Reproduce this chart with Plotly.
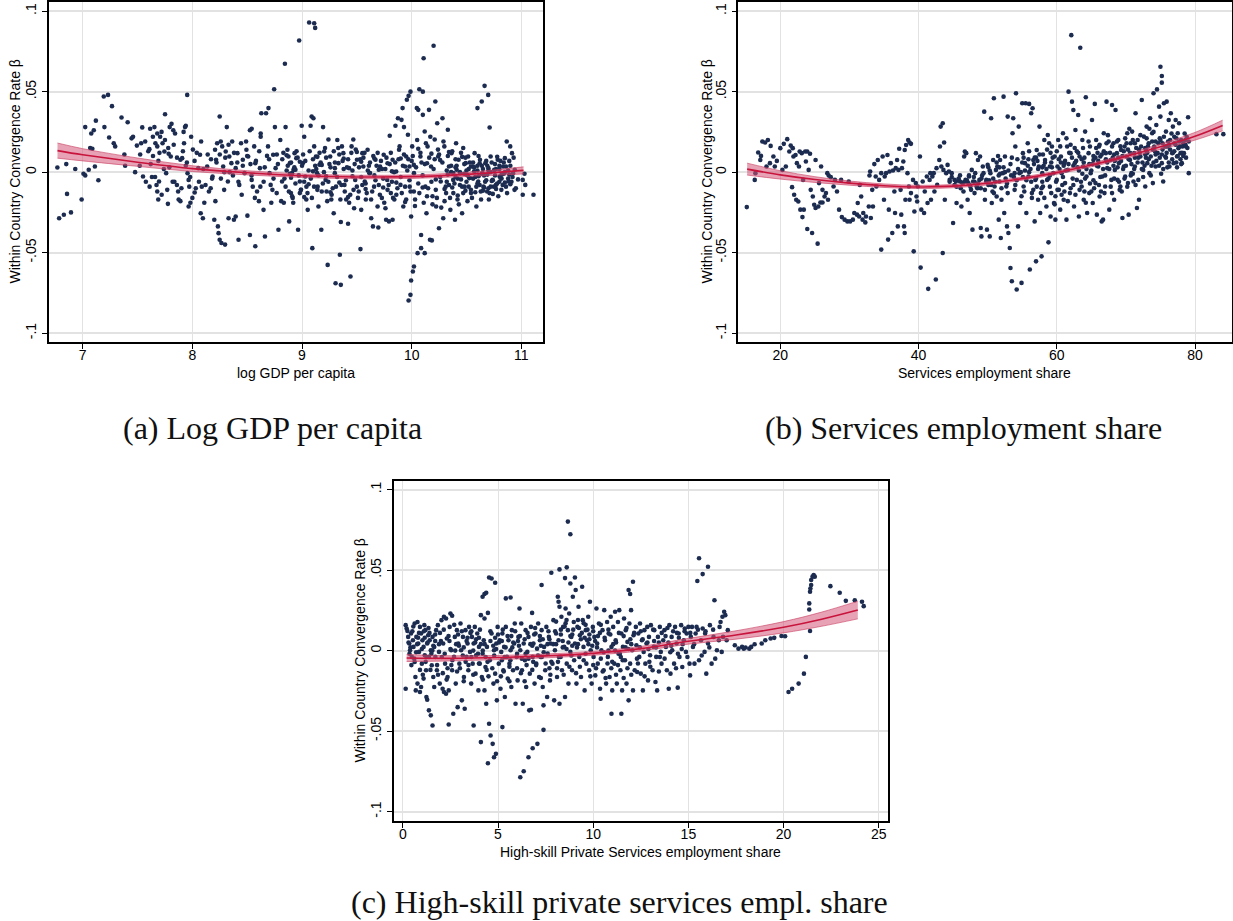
import plotly.graph_objects as go

W, H = 1233, 921

# ---------------------------------------------------------------------------
# Panel (a): within-country convergence rate vs log GDP per capita
# ---------------------------------------------------------------------------
gdp_points = [
    (6.769, 0.0029), (6.785, -0.0286), (6.828, -0.0265), (6.85, 0.005), (6.857, -0.0135),
    (6.893, -0.025), (6.932, 0.002), (6.99, -0.017), (7.007, -0.001), (7.023, -0.002),
    (7.023, 0.028), (7.055, 0.0015), (7.068, 0.015), (7.088, 0.0145), (7.078, 0.024),
    (7.101, 0.026), (7.111, 0.0035), (7.12, 0.032), (7.143, -0.005), (7.192, 0.047),
    (7.231, 0.048), (7.198, 0.028), (7.241, 0.0215), (7.267, 0.041), (7.283, 0.018),
    (7.296, 0.016), (7.354, 0.034), (7.387, 0.004), (7.38, 0.011), (7.41, 0.031),
    (7.446, 0.021), (7.459, 0.022), (7.478, 0.0), (7.494, 0.0165), (7.524, 0.011),
    (7.533, 0.018), (7.543, 0.0278), (7.55, -0.0027), (7.576, -0.006), (7.598, 0.013),
    (7.608, 0.0143), (7.615, 0.027), (7.631, -0.003), (7.641, 0.01), (7.654, 0.028),
    (7.68, 0.024), (7.663, 0.018), (7.68, 0.016), (7.673, -0.008), (7.68, -0.012),
    (7.689, -0.017), (7.696, -0.0058), (7.706, 0.022), (7.719, 0.025), (7.728, 0.018),
    (7.745, 0.0128), (7.751, 0.036), (7.761, -0.0006), (7.771, -0.011), (7.777, -0.0197),
    (7.784, 0.0114), (7.803, 0.0097), (7.793, 0.028), (7.81, 0.03), (7.826, 0.026),
    (7.842, 0.024), (7.836, -0.006), (7.859, -0.008), (7.875, -0.017), (7.891, -0.018),
    (7.891, 0.0077), (7.907, 0.0087), (7.914, 0.013), (7.924, 0.018), (7.933, 0.028),
    (7.94, 0.0288), (7.953, 0.048), (7.956, -0.0006), (7.966, -0.0048), (7.972, -0.009),
    (7.966, -0.0213), (7.982, -0.019), (7.989, 0.022), (8.005, 0.014), (8.021, -0.0126),
    (8.031, -0.01), (8.054, 0.0025), (8.07, 0.0108), (8.076, -0.0255), (8.096, -0.0286),
    (8.086, -0.009), (8.109, -0.019), (8.135, 0.0035), (8.151, -0.012), (8.167, -0.01),
    (8.184, -0.0027), (8.2, -0.0296), (8.207, 0.0139), (8.226, 0.018), (8.216, 0.0077),
    (8.233, -0.0337), (8.239, -0.0379), (8.249, 0.0346), (8.249, -0.042), (8.265, -0.044),
    (8.259, 0.019), (8.272, 0.016), (8.281, 0.0035), (8.291, 0.0), (8.298, -0.045),
    (8.304, 0.0128), (8.314, 0.028), (8.324, -0.0058), (8.33, -0.0286), (8.337, 0.0097),
    (8.356, 0.0056), (8.363, 0.019), (8.379, -0.0296), (8.395, -0.0275), (8.395, 0.0025),
    (8.411, 0.0118), (8.421, -0.042), (8.428, -0.0079), (8.444, 0.018), (8.46, 0.0077),
    (8.476, -0.0006), (8.493, 0.0139), (8.509, 0.0097), (8.502, -0.027), (8.525, 0.026),
    (8.541, 0.027), (8.525, -0.039), (8.541, -0.0048), (8.551, -0.009), (8.564, 0.016),
    (8.574, 0.0056), (8.574, -0.046), (8.59, -0.012), (8.607, -0.018), (8.616, 0.0025),
    (8.623, 0.024), (8.623, 0.022), (8.629, 0.0366), (8.649, -0.0234), (8.662, -0.04),
    (8.672, 0.0366), (8.694, 0.0398), (8.681, 0.0101), (8.704, -0.0006), (8.714, -0.0079),
    (8.72, -0.019), (8.737, 0.0108), (8.746, 0.0515), (8.753, 0.028), (8.759, 0.0025),
    (8.769, -0.013), (8.785, -0.0358), (8.802, 0.02), (8.818, -0.0058), (8.834, -0.019),
    (8.844, 0.0673), (8.85, 0.028), (8.867, 0.0139), (8.876, 0.0097), (8.889, 0.0056),
    (8.883, -0.0306), (8.899, -0.013), (8.915, -0.016), (8.909, -0.0006), (8.922, 0.0014),
    (8.932, 0.0118), (8.948, 0.0087), (8.964, -0.0358), (8.974, 0.0818), (8.98, -0.0058),
    (8.99, -0.011), (8.997, 0.0288), (9.007, 0.0056), (9.02, 0.022), (9.029, -0.0027),
    (9.039, -0.017), (9.052, -0.0234), (9.065, 0.093), (9.111, 0.0925), (9.12, 0.0896),
    (9.078, 0.0288), (9.088, 0.0346), (9.104, 0.0335), (9.094, -0.0472), (9.111, 0.016),
    (9.127, 0.0097), (9.137, -0.0006), (9.143, -0.009), (9.15, -0.0213), (9.159, 0.0046),
    (9.176, -0.0358), (9.192, 0.028), (9.202, 0.0128), (9.215, -0.0048), (9.224, -0.012),
    (9.234, -0.0576), (9.241, 0.0203), (9.257, 0.0097), (9.267, -0.017), (9.289, -0.0255),
    (9.299, -0.0006), (9.306, -0.069), (9.354, -0.07), (9.322, 0.02), (9.332, 0.0056),
    (9.345, -0.0513), (9.354, -0.031), (9.364, 0.016), (9.377, 0.0118), (9.387, -0.0079),
    (9.403, -0.017), (9.42, -0.032), (9.429, 0.0025), (9.442, -0.0648), (9.452, 0.016),
    (9.468, 0.0203), (9.475, -0.0224), (9.485, -0.0048), (9.501, 0.0077), (9.517, -0.012),
    (9.533, -0.0478), (9.54, -0.0234), (9.55, 0.0118), (9.559, 0.0035), (9.572, -0.0058),
    (9.582, -0.017), (9.598, 0.0139), (9.615, -0.0006), (9.631, -0.0286), (9.647, -0.0337),
    (9.696, -0.0344), (9.657, -0.009), (9.67, 0.0077), (9.689, -0.0213), (9.712, 0.0035),
    (9.728, -0.016), (9.745, 0.0108), (9.761, -0.0224), (9.767, -0.0296), (9.793, -0.0306),
    (9.826, -0.0296), (9.777, -0.0048), (9.8, 0.0226), (9.81, -0.013), (9.826, 0.0077),
    (9.842, -0.017), (9.852, 0.0288), (9.875, 0.0335), (9.859, 0.0004), (9.885, 0.0139),
    (9.898, -0.0079), (9.907, 0.0325), (9.917, 0.0398), (9.924, -0.0213), (9.93, 0.028),
    (9.94, 0.0035), (9.95, 0.0097), (9.956, 0.045), (9.972, 0.0474), (9.989, 0.05),
    (9.966, 0.0232), (9.972, -0.0797), (9.989, -0.0762), (9.995, -0.0673), (10.011, -0.0617),
    (10.021, -0.0586), (9.982, -0.009), (9.995, -0.0275), (10.005, 0.016), (10.021, -0.0006),
    (10.031, -0.017), (10.047, 0.0398), (10.06, 0.0387), (10.054, -0.0503), (10.086, -0.0472),
    (10.119, -0.0503), (10.07, 0.0515), (10.102, 0.05), (10.08, 0.0097), (10.086, -0.039),
    (10.102, 0.0356), (10.109, 0.0708), (10.119, 0.0253), (10.125, -0.009), (10.135, -0.0255),
    (10.145, 0.016), (10.158, 0.0387), (10.167, -0.042), (10.184, -0.0424), (10.177, 0.0035),
    (10.19, -0.015), (10.2, 0.0785), (10.21, 0.0203), (10.216, 0.0439), (10.223, -0.0213),
    (10.233, 0.0304), (10.242, 0.0097), (10.249, -0.0348), (10.265, -0.0058), (10.281, 0.0335),
    (10.288, -0.0286), (10.298, 0.016), (10.314, -0.013), (10.33, 0.0263), (10.34, 0.0035),
    (10.353, -0.0234), (10.363, 0.0118), (10.379, -0.0048), (10.395, -0.0296), (10.405, 0.018),
    (10.418, -0.017), (10.428, 0.0077), (10.444, -0.0006), (10.46, -0.0255), (10.47, 0.015),
    (10.483, -0.009), (10.493, 0.0056), (10.509, -0.018), (10.515, 0.0097), (10.525, -0.0037),
    (10.541, -0.013), (10.558, 0.0035), (10.574, 0.0118), (10.59, -0.0213), (10.6, 0.0398),
    (10.639, 0.0439), (10.665, 0.0536), (10.698, 0.048), (10.607, -0.0058), (10.623, 0.0077),
    (10.633, -0.017), (10.646, -0.0006), (10.655, -0.009), (10.672, 0.0056), (10.688, -0.012),
    (10.704, -0.017), (10.711, 0.0277), (10.72, 0.0097), (10.737, -0.0048), (10.753, 0.0014),
    (10.769, -0.0079), (10.785, 0.0077), (10.802, -0.0027), (10.818, -0.011), (10.834, 0.0035),
    (10.85, 0.0087), (10.867, 0.019), (10.883, -0.0058), (10.899, 0.016), (10.915, 0.0118),
    (10.925, -0.0006), (10.938, -0.011), (11.013, -0.0048), (11.029, -0.001), (11.036, -0.0079),
    (11.013, -0.014), (11.111, -0.014),
    # dense core
    (7.62, 0.005), (7.66, -0.003), (7.7, 0.012), (7.74, 0.002), (7.78, 0.015), (7.82, -0.006),
    (7.86, 0.009), (7.9, -0.01), (7.94, 0.004), (7.98, -0.003), (8.02, 0.007), (8.06, -0.006),
    (8.1, 0.002), (8.14, 0.011), (8.18, -0.004), (8.22, 0.006), (8.26, -0.004), (8.3, 0.009),
    (8.34, 0.0), (8.38, 0.012), (8.42, -0.006), (8.46, 0.004), (8.5, 0.01), (8.54, -0.002),
    (8.58, 0.007), (8.62, -0.009), (8.66, 0.003), (8.7, 0.008), (8.74, -0.004), (8.78, 0.005),
    (8.82, 0.008), (8.84, -0.004), (8.86, 0.001), (8.88, -0.012), (8.9, 0.006), (8.91, -0.015),
    (8.93, 0.003), (8.94, -0.007), (8.96, 0.009), (8.97, -0.002), (8.99, -0.011), (9.0, 0.004),
    (9.02, -0.006), (9.03, 0.007), (9.05, -0.013), (9.06, 0.001), (9.08, -0.004), (9.1, 0.008),
    (9.11, -0.009), (9.13, 0.002), (9.15, -0.002), (9.17, 0.006), (9.18, -0.012), (9.2, 0.0),
    (9.22, 0.009), (9.24, -0.006), (9.26, 0.003), (9.28, -0.01), (9.3, 0.006), (9.32, -0.003),
    (9.34, 0.011), (9.36, -0.008), (9.38, 0.002), (9.4, -0.005), (9.42, 0.008), (9.44, -0.014),
    (9.46, 0.001), (9.48, 0.005), (9.5, -0.009), (9.52, 0.003), (9.54, -0.003), (9.56, 0.009),
    (9.58, -0.007), (9.6, 0.001), (9.62, 0.006), (9.64, -0.012), (9.66, -0.002), (9.68, 0.004),
    (9.7, -0.008), (9.72, 0.007), (9.74, -0.004), (9.76, 0.002), (9.78, -0.011), (9.8, 0.005),
    (9.82, -0.006), (9.84, 0.0), (9.86, -0.014), (9.88, 0.008), (9.9, -0.003), (9.92, 0.004),
    (9.94, -0.009), (9.96, 0.001), (9.98, -0.005), (10.0, 0.007), (10.02, -0.012), (10.04, 0.003),
    (10.06, -0.007), (10.08, 0.012), (10.1, -0.002), (10.12, 0.005), (10.14, -0.015), (10.16, 0.009),
    (10.18, -0.006), (10.2, 0.002), (10.22, -0.011), (10.24, 0.014), (10.26, -0.003), (10.28, 0.006),
    (10.3, -0.018), (10.32, 0.001), (10.34, -0.008), (10.36, 0.004), (10.38, -0.013), (10.4, 0.008),
    (10.42, -0.004), (10.44, 0.0), (10.46, -0.009), (10.48, 0.005), (10.5, -0.006), (10.52, 0.002),
    (10.54, -0.011), (10.56, 0.006), (10.58, -0.003), (10.6, 0.001), (10.62, -0.008), (10.64, 0.004),
    (10.66, -0.002), (10.68, 0.007), (10.7, -0.01), (10.72, 0.0), (10.74, -0.005), (10.76, 0.005),
    (10.78, -0.007), (10.8, 0.002), (10.82, -0.004), (10.84, 0.006), (10.86, -0.009), (10.88, 0.001),
    (10.9, 0.004), (10.92, -0.003),
    (7.52, 0.004), (7.57, 0.019), (7.61, -0.009), (7.64, 0.022), (7.69, 0.007), (7.72, -0.014),
    (7.75, 0.02), (7.79, 0.003), (7.83, 0.017), (7.87, -0.012), (7.92, 0.025), (7.95, 0.006),
    (8.0, -0.016), (8.04, 0.012), (8.08, 0.019), (8.12, -0.008), (8.17, 0.008), (8.21, -0.018),
    (8.25, 0.011), (8.29, -0.011), (8.33, 0.017), (8.37, -0.002), (8.41, 0.006), (8.45, -0.014),
    (8.49, 0.019), (8.53, 0.005), (8.57, -0.016), (8.61, 0.013), (8.65, -0.006), (8.69, 0.016),
    (8.73, -0.011), (8.77, 0.011),
    (8.81, -0.018), (8.83, 0.012), (8.85, -0.009), (8.87, 0.004), (8.89, -0.001), (8.92, -0.019),
    (8.95, 0.013), (8.98, -0.013), (9.01, 0.011), (9.04, -0.009), (9.07, 0.013), (9.09, -0.016),
    (9.12, 0.004), (9.14, -0.011), (9.16, 0.012), (9.19, -0.007), (9.21, 0.015), (9.23, -0.018),
    (9.25, 0.005), (9.27, -0.014), (9.29, 0.013), (9.31, -0.009), (9.33, 0.015), (9.35, -0.017),
    (9.37, 0.007), (9.39, -0.012), (9.41, 0.003), (9.43, -0.019), (9.45, 0.012), (9.47, -0.011),
    (9.49, 0.014), (9.51, -0.016), (9.53, 0.008), (9.55, -0.008), (9.57, 0.012), (9.59, -0.013),
    (9.61, 0.004), (9.63, -0.017), (9.65, 0.01), (9.67, -0.005), (9.69, 0.012), (9.71, -0.014),
    (9.73, 0.002), (9.75, -0.019), (9.77, 0.009), (9.79, -0.008), (9.81, 0.012), (9.83, -0.016),
    (9.85, 0.006), (9.87, -0.01), (9.89, 0.016), (9.91, -0.013), (9.93, 0.011), (9.95, -0.017),
    (9.97, 0.008), (9.99, -0.012),
    (10.01, 0.01), (10.03, -0.021), (10.05, 0.02), (10.07, -0.013), (10.09, 0.006), (10.11, -0.019),
    (10.13, 0.018), (10.15, -0.01), (10.17, 0.022), (10.19, -0.02), (10.21, 0.008), (10.23, -0.016),
    (10.25, 0.011), (10.27, -0.022), (10.29, 0.019), (10.31, -0.009), (10.33, 0.01), (10.35, -0.016),
    (10.37, 0.013), (10.39, -0.007), (10.41, 0.004), (10.43, -0.02), (10.45, 0.012), (10.47, -0.013),
    (10.49, 0.009), (10.51, -0.002), (10.53, 0.006), (10.55, -0.016), (10.57, 0.003), (10.59, -0.009),
    (10.61, 0.01), (10.63, -0.012), (10.65, 0.002), (10.67, -0.006), (10.69, 0.004), (10.71, -0.013),
    (10.73, 0.006), (10.75, -0.009), (10.77, 0.002), (10.79, -0.015), (10.81, 0.007), (10.83, -0.008),
    (10.85, 0.0), (10.87, -0.013), (10.89, 0.007), (10.91, -0.006), (10.93, 0.009), (10.95, -0.01),
    (10.32, -0.006), (10.36, 0.0), (10.4, -0.003), (10.44, -0.008), (10.48, -0.001), (10.52, -0.009),
    (10.56, -0.004), (10.6, -0.007), (10.64, -0.001), (10.68, -0.005), (10.72, -0.009), (10.76, -0.002),
    (10.8, -0.006), (10.84, -0.001), (10.88, -0.004), (10.4, 0.003), (10.5, 0.001), (10.6, 0.004),
    (10.7, 0.001), (10.8, 0.004),
    (8.86, 0.0105), (8.9, -0.0035), (8.94, 0.0015), (8.98, 0.0065), (9.02, -0.0155), (9.06, -0.0075),
    (9.1, 0.0005), (9.14, 0.0095), (9.18, 0.0045), (9.22, -0.0025), (9.26, -0.0125), (9.3, 0.0025),
    (9.34, -0.0065), (9.38, 0.0085), (9.42, -0.0155), (9.46, -0.0025), (9.5, 0.0125), (9.54, 0.0065),
    (9.58, -0.0105), (9.62, -0.0005), (9.66, 0.0085), (9.7, 0.0015), (9.74, -0.0095), (9.78, 0.0055),
    (9.82, 0.0005), (9.86, -0.0065), (9.9, 0.0085), (9.94, -0.0185), (9.98, 0.0035), (10.02, 0.0045),
    (10.06, 0.0145), (10.1, -0.0095), (10.14, 0.0055), (10.18, 0.0115), (10.22, -0.0045), (10.26, 0.0075),
    (10.3, -0.0105), (10.34, 0.0125), (10.38, -0.0005), (10.42, -0.0145), (10.46, 0.0095), (10.5, -0.0015),
    (10.54, 0.0035), (10.58, -0.0125), (10.62, 0.0055), (10.66, -0.0095), (10.7, 0.0025), (10.74, -0.0135),
    (10.78, 0.0095), (10.82, -0.0015), (10.86, 0.0035), (10.9, -0.0075), (10.94, 0.0015), (10.97, -0.0045),
    (10.33, -0.0015), (10.37, -0.0095), (10.41, 0.0015), (10.45, -0.0045), (10.49, -0.0115), (10.53, -0.0035),
    (10.57, 0.0005), (10.61, -0.0025), (10.65, -0.0115), (10.69, -0.0015), (10.73, -0.0055), (10.77, -0.0105),
    (10.81, -0.0035), (10.85, -0.0065), (10.89, -0.0015),
]

gdp_fit_x = [6.77, 7.0, 7.5, 8.0, 8.5, 9.0, 9.5, 10.0, 10.5, 11.02]
gdp_fit_y = [0.0134, 0.0108, 0.0062, 0.0022, -0.0004, -0.0022, -0.003, -0.0028, -0.0014, 0.0011]
gdp_fit_half = [0.0047, 0.0038, 0.0026, 0.0018, 0.0013, 0.0011, 0.0011, 0.0011, 0.0013, 0.0022]

# ---------------------------------------------------------------------------
# Panel (b): vs services employment share
# ---------------------------------------------------------------------------
serv_points = [
    (15.15, -0.0217), (16.3, -0.0048), (16.4, -0.0006), (16.8, 0.0122), (17.2, 0.0101),
    (17.1, 0.0076), (17.4, 0.019), (17.8, 0.0184), (18.2, 0.02), (18.0, 0.0035),
    (18.5, 0.0056), (18.6, 0.0163), (19.0, 0.0097), (19.2, 0.0035), (19.5, 0.007),
    (20.0, 0.0149), (20.3, 0.0014), (20.5, 0.0176), (21.0, 0.0205), (20.8, 0.0035),
    (21.3, 0.0128), (21.5, 0.0165), (21.8, 0.0149), (21.7, -0.0093), (22.0, -0.014),
    (22.3, -0.0171), (22.6, -0.0182), (21.9, 0.0097), (22.2, 0.0107), (22.4, 0.0056),
    (22.7, 0.0035), (22.8, 0.0128), (23.1, 0.0118), (22.9, -0.0233), (23.2, -0.0279),
    (23.3, -0.0048), (23.4, -0.0233), (23.6, 0.0128), (23.9, 0.0128), (24.3, 0.0114),
    (23.7, 0.0066), (24.1, 0.0014), (23.9, -0.0353), (24.6, -0.0378), (24.4, -0.011),
    (24.7, -0.0151), (24.9, -0.0202), (25.1, -0.0223), (25.5, -0.0213), (25.8, -0.0188),
    (26.1, -0.0188), (25.1, 0.0076), (25.4, -0.0444), (25.6, -0.0068), (25.9, 0.0035),
    (26.1, -0.011), (26.4, -0.0151), (26.8, -0.0006), (27.0, -0.0021), (27.3, -0.0031),
    (26.6, -0.013), (26.9, -0.0171), (27.7, -0.0089), (27.9, -0.0048), (28.2, -0.012),
    (28.5, -0.0233), (28.8, -0.0048), (28.9, -0.0279), (29.3, -0.0295), (29.7, -0.0306),
    (30.1, -0.0306), (30.5, -0.0295), (29.9, -0.0058), (30.7, -0.0254), (31.1, -0.0264),
    (31.4, -0.0275), (31.2, -0.0192), (31.5, -0.0079), (31.7, -0.0151), (31.9, -0.0295),
    (32.3, -0.0312), (32.0, -0.0254), (32.4, -0.0275), (32.8, -0.0213), (32.9, -0.0021),
    (33.0, 0.0004), (33.1, -0.0285), (33.3, -0.011), (33.4, -0.0213), (33.6, 0.005),
    (33.8, -0.0027), (33.9, -0.0089), (34.1, 0.0076), (34.3, -0.0048), (34.6, -0.0481),
    (34.6, -0.0006), (34.8, 0.0097), (35.0, -0.0171), (35.1, -0.0027), (35.3, -0.0006),
    (35.5, 0.0107), (35.6, -0.0419), (35.7, -0.0233), (35.8, 0.0004), (36.0, 0.0056),
    (36.2, -0.0378), (36.3, 0.001), (36.5, -0.012), (36.6, -0.0254), (36.7, 0.0025),
    (36.9, 0.0076), (37.0, -0.0337), (37.1, 0.0014), (37.2, 0.0145), (37.4, -0.011),
    (37.5, -0.0264), (37.6, 0.0025), (37.8, 0.0066), (37.9, -0.0337), (38.0, -0.0378),
    (38.0, 0.0138), (38.1, -0.0171), (38.2, 0.0169), (38.4, -0.0006), (38.5, 0.02),
    (38.7, 0.0184), (38.9, 0.0176), (38.6, -0.0089), (38.7, -0.0171), (38.9, -0.013),
    (39.2, -0.0048), (39.3, -0.0492), (39.4, -0.0244), (39.6, -0.0068), (39.7, -0.0151),
    (39.8, -0.0182), (39.9, -0.0089), (40.2, 0.0097), (40.3, -0.0593), (40.4, -0.0233),
    (40.6, -0.0058), (40.8, -0.0254), (40.9, -0.012), (41.2, -0.0027), (41.3, -0.0192),
    (41.4, -0.0725), (41.6, -0.0048), (41.7, -0.0006), (41.8, -0.0171), (42.0, -0.0027),
    (42.2, -0.0006), (42.3, -0.012), (42.5, -0.0667), (42.6, 0.0025), (42.7, -0.0079),
    (43.0, 0.0076), (43.1, 0.0159), (43.2, 0.0283), (43.5, 0.0304), (43.7, 0.0184),
    (43.3, 0.0035), (43.5, -0.0502), (43.6, 0.0014), (43.8, -0.0171), (44.0, -0.0006),
    (44.2, 0.0045), (44.4, 0.0004), (44.5, -0.0048), (44.8, -0.0006), (45.0, -0.0316),
    (45.2, -0.0048), (45.4, -0.0058), (45.5, -0.0192), (45.8, -0.0048), (46.0, -0.0058),
    (46.2, -0.0213), (46.3, -0.0064), (46.5, -0.012), (46.6, 0.0097), (46.7, 0.0128),
    (46.9, 0.0118), (46.8, -0.0048), (47.1, -0.0171), (47.2, -0.0068), (47.3, -0.0027),
    (47.4, -0.0254), (47.6, -0.011), (47.7, 0.0014), (47.8, -0.0357), (47.9, -0.0058),
    (48.1, -0.013), (48.2, -0.0006), (48.3, 0.0118), (48.4, -0.0089), (48.6, 0.0076),
    (48.8, -0.0048), (48.9, 0.0097), (49.0, -0.0347), (49.1, -0.0399), (49.3, 0.0035),
    (49.4, -0.0006), (49.5, 0.0376), (49.6, -0.0171), (49.8, -0.0048), (49.9, -0.0357),
    (50.0, 0.0045), (50.1, -0.0079), (50.3, -0.0399), (50.4, -0.0006), (50.5, 0.0335),
    (50.6, -0.0192), (50.8, 0.0076), (50.9, 0.0459), (51.0, -0.0089), (51.2, 0.0014),
    (51.3, -0.0151), (51.4, 0.0035), (51.6, -0.0295), (51.7, -0.0058), (51.8, 0.0076),
    (51.9, -0.0409), (52.0, -0.0171), (52.2, -0.0006), (52.3, 0.0469), (52.4, -0.0254),
    (52.5, 0.0097), (52.7, -0.0089), (52.8, -0.0337), (52.9, 0.0345), (53.0, -0.0378),
    (53.2, -0.0471), (53.3, -0.0595), (53.5, -0.0678), (53.6, 0.0242), (53.7, 0.0335),
    (53.9, -0.0006), (54.0, 0.0159), (54.1, 0.049), (54.2, -0.0729), (54.4, -0.0337),
    (54.5, 0.0283), (54.6, -0.0006), (54.7, -0.0192), (54.9, -0.0688), (55.0, 0.0428),
    (55.1, 0.0118), (55.2, -0.0089), (55.4, 0.0056), (55.5, 0.0428), (56.0, 0.0424),
    (55.6, -0.0254), (55.8, 0.018), (55.9, -0.0027), (56.1, -0.0605), (56.3, 0.0366),
    (56.5, 0.0397), (56.4, -0.013), (56.6, 0.0076), (56.8, -0.0306), (56.9, -0.0048),
    (57.0, -0.0554), (57.1, 0.0138), (57.3, -0.0171), (57.4, 0.0035), (57.5, 0.0283),
    (57.6, -0.0254), (57.8, -0.0523), (57.9, -0.0006), (58.0, -0.0089), (58.2, 0.02),
    (58.3, 0.0076), (58.5, -0.0213), (58.6, -0.0048), (58.7, 0.0231), (58.8, -0.0436),
    (59.0, 0.0035), (59.1, -0.0275), (59.2, -0.013), (59.3, 0.0159), (59.5, -0.0006),
    (59.6, -0.0192), (59.7, 0.0097), (59.8, -0.0295), (60.0, -0.0048), (60.1, 0.0035),
    (60.2, 0.02), (60.3, -0.011), (60.5, -0.0233), (60.6, 0.0097), (60.7, -0.0006),
    (60.9, 0.0242), (61.0, -0.0171), (61.1, 0.0056), (61.2, -0.0068), (61.4, -0.0295),
    (61.5, 0.0159), (61.6, 0.0014), (61.7, 0.05), (61.9, -0.013), (62.0, 0.0118),
    (62.1, 0.0851), (62.2, 0.0438), (62.4, 0.0386), (62.5, -0.0213), (62.6, 0.0056),
    (62.7, 0.0262), (62.9, -0.0048), (63.1, 0.0355), (63.2, -0.0275), (63.3, 0.0097),
    (63.4, 0.0773), (63.6, -0.0089), (63.7, 0.02), (63.8, 0.0035), (63.9, -0.0171),
    (64.1, 0.0252), (64.2, 0.0465), (64.3, -0.0027), (64.4, -0.0254), (64.6, 0.0118),
    (64.7, -0.013), (64.8, 0.0159), (64.9, -0.0006), (65.1, 0.0324), (65.2, -0.0192),
    (65.3, 0.0076), (65.5, 0.0424), (65.6, -0.0068), (65.7, 0.02), (65.8, -0.0264),
    (66.0, 0.0035), (66.1, 0.0159), (66.2, -0.0151), (66.3, 0.0097), (66.5, -0.0306),
    (66.6, -0.0027), (66.7, -0.0295), (66.8, 0.0242), (67.0, -0.0089), (67.1, 0.0118),
    (67.2, 0.0438), (67.3, 0.0025), (67.5, 0.019), (67.6, -0.0233), (67.8, 0.0076),
    (67.9, -0.0048), (68.0, 0.0417), (68.2, 0.018), (68.3, -0.0171), (68.4, 0.0014),
    (68.5, 0.0386), (68.7, 0.0118), (68.8, -0.0048), (68.9, 0.02), (69.0, 0.0056),
    (69.2, -0.0089), (69.3, 0.0138), (69.4, -0.012), (69.5, -0.0285), (69.7, 0.0035),
    (69.8, 0.0159), (69.9, -0.0027), (70.1, 0.0097), (70.2, 0.0242), (70.3, -0.0068),
    (70.4, -0.0264), (70.6, 0.0076), (70.7, 0.018), (70.8, -0.0006), (70.9, 0.0252),
    (71.1, -0.0058), (71.2, 0.0118), (71.3, 0.0035), (71.4, 0.0366), (71.6, -0.0223),
    (71.7, 0.02), (71.8, -0.0048), (71.9, -0.0171), (72.1, 0.0097), (72.2, 0.0159),
    (72.3, 0.0448), (72.5, 0.0014), (72.6, 0.0221), (72.8, -0.0089), (72.9, 0.0138),
    (73.0, 0.0283), (73.1, 0.0056), (73.3, 0.018), (73.4, -0.0006), (73.5, 0.0335),
    (73.6, 0.0097), (73.8, 0.0242), (73.9, -0.0068), (74.0, 0.049), (74.1, 0.0159),
    (74.3, 0.0035), (74.4, 0.0293), (74.5, 0.0514), (74.6, 0.0118), (74.8, 0.0407),
    (74.9, 0.0211), (75.0, 0.0655), (75.2, 0.0597), (75.2, 0.0556), (75.0, 0.0345),
    (75.2, 0.0056), (75.3, 0.018), (75.4, -0.0058), (75.5, 0.0428), (75.7, 0.0097),
    (75.8, 0.0252), (75.9, 0.0438), (76.0, 0.0159), (76.2, 0.0324), (76.3, 0.0035),
    (76.4, 0.02), (76.5, 0.0366), (76.7, 0.0118), (76.8, 0.0283), (76.9, 0.0056),
    (77.0, 0.018), (77.2, 0.0324), (77.4, 0.0097), (77.5, 0.0242), (77.6, 0.0149),
    (77.7, 0.0304), (77.9, 0.0118), (78.0, 0.02), (78.1, 0.0056), (78.2, 0.0159),
    (78.4, 0.0118), (78.6, 0.02), (78.7, 0.0159), (79.0, 0.0341), (79.1, -0.0006),
    (83.1, 0.0236), (84.1, 0.0236),
    # dense core
    (44.5, -0.006), (45.2, -0.008), (45.8, -0.004), (46.4, -0.007), (47.0, -0.005), (47.5, -0.009),
    (48.0, -0.003), (48.6, -0.007), (49.2, -0.002), (49.8, -0.006), (50.3, 0.001), (50.8, -0.004),
    (51.3, 0.006), (51.8, -0.001), (52.3, 0.003), (52.8, -0.007), (53.3, 0.005), (53.8, -0.003),
    (54.3, 0.008), (54.8, 0.0), (55.3, -0.012), (55.8, 0.004), (56.3, -0.006), (56.8, 0.009),
    (57.3, 0.002), (57.8, -0.01), (58.3, 0.006), (58.8, -0.004), (59.3, 0.003), (59.8, -0.015),
    (60.3, 0.008), (60.8, -0.008), (61.3, 0.001), (61.8, 0.012), (62.3, -0.004), (62.8, 0.007),
    (63.3, -0.011), (63.8, 0.015), (64.3, 0.002), (64.8, -0.007), (65.3, 0.01), (65.8, 0.004),
    (66.3, -0.003), (66.8, 0.013), (67.3, 0.006), (67.8, -0.009), (68.3, 0.011), (68.8, 0.003),
    (69.3, 0.007), (69.8, -0.004), (70.3, 0.014), (70.8, 0.005), (71.3, 0.018), (71.8, 0.009),
    (72.3, 0.002), (72.8, 0.015), (73.3, 0.008), (73.8, 0.019), (74.3, 0.011), (74.8, 0.004),
    (75.3, 0.014), (75.8, 0.009), (76.3, 0.017), (76.8, 0.012), (77.3, 0.006), (77.8, 0.016),
    (78.3, 0.01), (78.8, 0.022),
    (46.1, -0.01), (47.3, -0.002), (49.0, -0.01), (50.5, -0.008), (51.5, 0.01), (53.0, 0.001),
    (54.0, -0.008), (55.0, 0.006), (56.0, 0.0), (57.0, -0.004), (58.0, 0.011), (59.0, -0.009),
    (60.0, 0.013), (61.0, 0.004), (62.0, -0.01), (63.0, 0.003), (64.0, 0.009), (65.0, -0.012),
    (66.0, 0.007), (67.0, -0.002), (68.0, 0.016), (69.0, -0.006), (70.0, 0.004), (71.0, -0.001),
    (72.0, 0.012), (73.0, 0.021), (74.0, 0.006), (75.0, 0.02), (76.0, 0.003), (77.0, 0.022),
    (78.0, 0.005),
    (44.8, -0.003), (45.5, -0.009), (46.0, -0.002), (46.7, -0.006), (47.4, -0.008), (48.1, -0.006),
    (48.5, -0.01), (49.1, -0.004), (49.6, -0.011), (50.2, -0.005), (50.7, -0.012), (51.1, -0.006),
    (51.6, -0.002), (52.0, -0.01), (52.5, 0.0), (52.9, -0.013), (53.4, -0.002), (53.9, -0.011),
    (54.4, 0.002), (54.9, -0.015),
    (55.2, 0.009), (55.6, -0.005), (56.0, 0.013), (56.4, -0.016), (56.7, 0.005), (57.1, -0.009),
    (57.5, 0.011), (57.9, 0.003), (58.2, -0.016), (58.6, 0.014), (59.0, -0.002), (59.4, 0.009),
    (59.7, -0.02), (60.1, -0.011), (60.5, 0.016), (60.9, -0.003), (61.2, 0.007), (61.6, -0.018),
    (62.0, 0.017), (62.4, 0.004), (62.7, -0.014), (63.1, 0.012), (63.5, -0.006), (63.9, 0.006),
    (64.2, -0.019), (64.6, 0.019), (65.0, 0.001), (65.4, -0.01), (65.7, 0.015), (66.1, -0.008),
    (66.5, 0.011), (66.9, -0.013), (67.2, 0.018), (67.6, 0.002), (68.0, -0.013), (68.4, 0.007),
    (68.7, 0.019), (69.1, -0.011), (69.5, 0.01), (69.9, 0.021), (70.2, -0.009), (70.6, 0.012),
    (71.0, 0.02), (71.4, -0.008), (71.7, 0.006), (72.1, 0.023), (72.5, -0.003), (72.9, 0.009),
    (73.2, 0.016), (73.6, -0.002), (74.0, 0.025), (74.4, 0.007), (74.7, 0.018), (75.1, -0.001),
    (75.5, 0.022), (75.9, 0.012), (76.2, 0.006), (76.6, 0.024), (77.0, 0.013), (77.4, 0.003),
    (77.7, 0.019), (78.1, 0.012), (78.5, 0.024), (78.9, 0.015),
    (56.2, 0.002), (57.7, -0.013), (59.2, 0.006), (60.7, -0.014), (62.2, 0.009), (63.7, -0.001),
    (65.2, 0.005), (66.7, 0.002), (68.2, 0.004), (69.7, 0.013), (71.2, 0.002), (72.7, 0.004),
    (74.2, 0.013), (75.7, 0.016), (77.2, 0.017), (78.7, 0.009), (58.9, 0.018), (61.4, 0.021),
    (64.0, -0.012), (67.4, 0.023), (70.5, 0.027), (73.4, 0.027),
    (50.1, 0.003), (50.9, -0.013), (51.7, 0.003), (52.6, -0.004), (53.5, 0.009), (54.2, -0.005),
    (55.1, -0.003), (55.9, 0.008), (56.6, -0.011), (57.2, 0.007), (57.9, -0.006), (58.5, 0.002),
    (59.1, 0.012), (59.9, -0.006), (60.4, 0.002), (61.1, -0.012), (61.7, 0.005), (62.4, -0.008),
    (62.9, 0.013), (63.6, 0.008), (64.1, -0.004), (64.7, 0.005), (65.3, -0.005), (65.9, 0.012),
    (66.4, -0.012), (67.1, 0.008), (67.7, 0.012), (68.3, -0.004), (68.9, 0.009), (69.6, 0.002),
    (70.1, 0.018), (70.7, -0.002), (71.3, 0.009), (71.9, 0.014), (72.4, 0.006), (73.1, 0.012),
    (73.7, 0.004), (74.3, 0.019), (74.9, 0.009), (75.4, 0.002), (76.1, 0.019), (76.7, 0.008),
    (77.3, 0.021), (77.9, 0.008), (78.6, 0.017), (79.1, 0.019),
    (55.4, 0.001), (58.1, 0.004), (60.6, 0.006), (63.2, 0.001), (65.6, 0.009), (68.1, 0.009),
    (70.4, 0.008), (72.8, 0.011), (75.2, 0.011), (77.5, 0.01), (57.0, 0.009), (62.6, 0.015),
    (66.2, 0.017), (69.2, 0.016), (71.5, 0.015), (73.9, 0.014), (76.4, 0.014), (78.3, 0.018),
]

serv_fit_x = [15.2, 20, 25, 30, 35, 40, 45, 50, 55, 60, 65, 70, 75, 80, 84]
serv_fit_y = [0.0019, -0.0017, -0.0046, -0.0068, -0.0084, -0.0092, -0.0087, -0.0069, -0.0040,
              -0.0003, 0.0044, 0.0098, 0.0158, 0.0223, 0.0290]
serv_fit_half = [0.0037, 0.0026, 0.0018, 0.0013, 0.0011, 0.001, 0.001, 0.001, 0.001,
                 0.001, 0.0011, 0.0013, 0.0017, 0.0024, 0.0033]

# ---------------------------------------------------------------------------
# Panel (c): vs high-skill private services employment share
# ---------------------------------------------------------------------------
hskill_points = [
    (0.15, -0.0237), (0.15, 0.0158), (0.2, 0.0137), (0.24, 0.0122), (0.28, 0.0085),
    (0.34, 0.0044), (0.38, 0.0002), (0.43, 0.0106), (0.47, -0.0039), (0.53, 0.0064),
    (0.56, 0.0023), (0.62, 0.0168), (0.62, -0.0071), (0.66, -0.0164), (0.68, -0.0247),
    (0.71, 0.0085), (0.77, 0.0178), (0.77, -0.0205), (0.81, 0.0044), (0.85, -0.0008),
    (0.9, 0.0147), (0.9, -0.0257), (0.96, -0.0226), (0.96, 0.0106), (1.0, -0.0081),
    (1.03, 0.0064), (1.09, 0.0023), (1.09, -0.0174), (1.13, 0.0158), (1.15, -0.0029),
    (1.18, 0.0127), (1.22, -0.0122), (1.28, 0.0044), (1.24, -0.0288), (1.28, -0.0305),
    (1.33, 0.0095), (1.37, -0.0039), (1.37, -0.0371), (1.47, -0.0402), (1.56, -0.0465),
    (1.41, 0.0064), (1.47, 0.0002), (1.52, -0.0091), (1.56, 0.0085), (1.6, -0.0164),
    (1.65, 0.0023), (1.65, -0.0226), (1.71, -0.0039), (1.75, 0.0127), (1.79, -0.0122),
    (1.84, 0.0158), (1.9, -0.0008), (1.94, -0.0205), (2.03, 0.0189), (2.16, 0.021),
    (2.27, 0.0199), (2.09, -0.0237), (2.16, -0.0257), (2.27, -0.0268), (2.41, -0.0247),
    (2.12, 0.0044), (2.22, -0.0081), (2.31, 0.0075), (2.35, -0.0164), (2.41, -0.0459),
    (2.46, 0.0147), (2.5, 0.023), (2.59, 0.0216), (2.54, 0.0002), (2.59, -0.0122),
    (2.65, -0.0392), (2.69, -0.0039), (2.73, 0.0085), (2.78, -0.0205), (2.84, 0.0127),
    (2.88, -0.0351), (2.91, 0.0044), (2.97, -0.0081), (3.03, 0.0168), (3.06, 0.0002),
    (3.1, -0.0309), (3.16, 0.0085), (3.21, -0.0164), (3.25, -0.0361), (3.29, 0.0127),
    (3.35, -0.0039), (3.4, 0.0044), (3.44, -0.0122), (3.48, 0.0147), (3.53, -0.0008),
    (3.59, -0.0205), (3.63, 0.0085), (3.67, -0.0081), (3.72, -0.0465), (3.72, 0.0044),
    (3.78, 0.0147), (3.82, -0.0143), (3.85, -0.0029), (3.91, 0.0106), (3.97, -0.0247),
    (4.0, 0.0023), (4.04, -0.0081), (4.1, -0.0568), (4.1, 0.022), (4.15, -0.0164),
    (4.19, 0.0334), (4.29, 0.0351), (4.38, 0.0359), (4.19, -0.0019), (4.25, 0.0064),
    (4.29, 0.0199), (4.29, -0.0247), (4.34, -0.0102), (4.38, -0.033), (4.42, 0.0023),
    (4.47, 0.0234), (4.47, -0.0699), (4.53, 0.0454), (4.66, 0.0448), (4.85, 0.0421),
    (4.53, -0.0454), (4.57, -0.006), (4.61, -0.0527), (4.66, 0.0106), (4.72, -0.0579),
    (4.76, -0.0205), (4.79, -0.0662), (4.89, -0.0641), (4.79, 0.0002), (4.85, -0.0143),
    (4.91, 0.0044), (4.94, -0.0309), (4.98, 0.0147), (5.04, -0.0081), (5.09, 0.0064),
    (5.13, -0.0237), (5.17, -0.0008), (5.23, -0.0475), (5.23, 0.0106), (5.28, -0.0122),
    (5.32, 0.0023), (5.36, -0.0288), (5.41, 0.0324), (5.41, 0.0147), (5.47, -0.0039),
    (5.51, -0.0174), (5.55, 0.0064), (5.6, -0.0081), (5.66, 0.033), (5.66, 0.0002),
    (5.7, -0.0226), (5.73, 0.0127), (5.79, -0.0122), (5.85, 0.0044), (5.88, 0.0168),
    (5.92, -0.033), (5.98, -0.0039), (6.03, -0.0185), (6.07, 0.0085), (6.13, 0.0261),
    (6.17, 0.0002), (6.17, -0.0786), (6.35, -0.0749), (6.6, -0.0662), (6.82, -0.0606),
    (7.07, -0.0579), (6.22, 0.0168), (6.26, -0.0122), (6.3, -0.033), (6.35, 0.0044),
    (6.41, -0.006), (6.45, 0.0127), (6.48, -0.0226), (6.54, -0.0008), (6.6, 0.0085),
    (6.64, -0.0371), (6.73, -0.0367), (6.67, -0.0143), (6.73, 0.0147), (6.79, 0.0234),
    (6.82, -0.0039), (6.86, 0.0044), (6.92, -0.0205), (6.97, 0.0106), (7.01, -0.0081),
    (7.05, 0.0012), (7.11, 0.0168), (7.16, -0.0164), (7.2, 0.0064), (7.24, -0.0039),
    (7.29, 0.0407), (7.29, 0.0127), (7.35, -0.0226), (7.39, -0.034), (7.39, -0.0492),
    (7.42, 0.0023), (7.48, -0.0122), (7.54, 0.0147), (7.58, -0.0288), (7.61, -0.0019),
    (7.67, 0.0085), (7.73, -0.0185), (7.76, 0.0044), (7.8, 0.0483), (7.86, -0.0081),
    (7.91, 0.0189), (7.95, -0.0309), (7.99, 0.0002), (8.05, 0.0106), (8.1, -0.0164),
    (8.14, 0.0334), (8.18, 0.0303), (8.23, 0.0272), (8.18, 0.0064), (8.23, 0.0504),
    (8.23, -0.033), (8.29, -0.0039), (8.33, 0.021), (8.36, -0.0122), (8.42, 0.0147),
    (8.48, 0.0023), (8.52, 0.045), (8.52, -0.0288), (8.55, 0.0261), (8.61, 0.0517),
    (8.61, -0.0081), (8.67, 0.0801), (8.67, 0.0127), (8.7, -0.0205), (8.74, 0.023),
    (8.8, 0.0722), (8.8, 0.0417), (8.8, -0.0008), (8.85, 0.0085), (8.89, -0.0122),
    (8.93, 0.0334), (8.98, 0.0178), (9.04, 0.0454), (9.04, 0.0044), (9.08, 0.0376),
    (9.12, -0.0205), (9.17, 0.0147), (9.23, 0.0272), (9.27, -0.0039), (9.3, 0.0095),
    (9.36, -0.0164), (9.42, 0.0396), (9.45, 0.0189), (9.49, 0.0023), (9.55, -0.0247),
    (9.61, 0.0127), (9.64, -0.0081), (9.68, 0.0064), (9.74, 0.021), (9.79, -0.0122),
    (9.83, 0.0303), (9.87, 0.0002), (9.92, -0.0205), (9.98, 0.0147), (10.02, -0.0039),
    (10.06, 0.0085), (10.11, -0.0154), (10.17, 0.0261), (10.21, 0.0044), (10.24, -0.0081),
    (10.3, 0.0168), (10.36, -0.0237), (10.39, -0.0299), (10.43, 0.0002), (10.49, 0.0127),
    (10.55, -0.0122), (10.58, 0.0251), (10.62, 0.0064), (10.68, -0.0205), (10.73, 0.0178),
    (10.77, -0.0039), (10.81, 0.0106), (10.86, -0.0164), (10.92, 0.021), (10.96, -0.0392),
    (10.96, 0.0023), (11.0, -0.0247), (11.05, 0.0147), (11.11, -0.0081), (11.15, 0.0241),
    (11.18, 0.0064), (11.24, -0.0205), (11.3, 0.0178), (11.33, -0.0019), (11.37, 0.0251),
    (11.43, -0.0122), (11.48, -0.0392), (11.48, 0.0106), (11.52, -0.0247), (11.56, 0.0023),
    (11.62, 0.0199), (11.67, -0.006), (11.71, 0.0127), (11.75, -0.0205), (11.8, 0.0054),
    (11.86, 0.0376), (11.94, 0.0351), (11.86, -0.0309), (11.9, 0.0168), (11.94, -0.0081),
    (11.99, 0.0251), (12.05, 0.0002), (12.09, 0.0427), (12.09, -0.0247), (12.12, 0.0095),
    (12.18, -0.0122), (12.24, 0.0147), (12.27, 0.0033), (12.31, -0.0133), (12.37, 0.0106),
    (12.42, -0.0039), (12.46, 0.0168), (12.5, -0.0143), (12.56, 0.0064), (12.61, -0.0247),
    (12.65, -0.0008), (12.69, 0.0127), (12.74, -0.0081), (12.8, 0.0044), (12.84, 0.0147),
    (12.88, -0.0185), (12.93, 0.0085), (12.99, -0.0029), (13.03, 0.0158), (13.12, -0.0122),
    (13.18, 0.0023), (13.21, 0.0127), (13.27, -0.0195), (13.31, -0.0039), (13.36, -0.0247),
    (13.4, 0.0085), (13.5, 0.0147), (13.55, -0.0008), (13.59, -0.0081), (13.68, 0.0064),
    (13.74, 0.0127), (13.82, 0.0023), (13.87, -0.0122), (13.97, -0.0237), (14.0, 0.0158),
    (14.06, -0.0143), (14.12, 0.0085), (14.15, 0.0002), (14.25, -0.0081), (14.3, 0.0147),
    (14.38, 0.0044), (14.44, -0.023), (14.49, 0.0106), (14.53, -0.0039), (14.62, 0.0158),
    (14.68, -0.0102), (14.76, 0.0064), (14.81, 0.0137), (14.87, -0.0008), (14.91, 0.0106),
    (15.0, 0.0147), (15.06, -0.0081), (15.09, -0.0154), (15.13, 0.0085), (15.19, 0.0147),
    (15.24, 0.0023), (15.32, -0.0081), (15.38, 0.0106), (15.43, 0.0147), (15.47, 0.0432),
    (15.56, 0.0573), (15.56, -0.006), (15.66, 0.0064), (15.75, 0.0475), (15.75, 0.0137),
    (15.85, -0.0008), (15.88, 0.0106), (15.94, -0.0143), (16.03, 0.0521), (16.03, 0.0044),
    (16.13, 0.0158), (16.22, -0.0081), (16.32, 0.0085), (16.37, 0.0313), (16.41, -0.005),
    (16.5, 0.0002), (16.6, 0.0064), (16.64, 0.0147), (16.69, 0.0178), (16.79, 0.021),
    (16.88, 0.0241), (16.94, 0.022), (16.75, -0.0008), (16.82, 0.0085), (17.01, 0.0064),
    (17.07, 0.0127), (17.44, 0.0033), (17.63, 0.0012), (17.82, 0.0023), (17.91, 0.0012),
    (18.0, 0.0019), (18.2, 0.0012), (18.3, 0.0023), (18.48, 0.0039), (18.85, 0.0044),
    (19.04, 0.0064), (19.32, 0.0075), (19.51, 0.0079), (19.89, 0.0091), (20.08, 0.0089),
    (20.26, -0.0257), (20.45, -0.0237), (20.79, -0.0205), (21.07, -0.0143), (21.17, -0.0039),
    (21.39, 0.0122), (21.35, 0.0255), (21.35, 0.0293), (21.39, 0.0365), (21.41, 0.0386),
    (21.45, 0.0407), (21.45, 0.0438), (21.52, 0.0459), (21.58, 0.0469), (21.64, 0.0459),
    (22.46, 0.04), (22.95, 0.0359), (23.27, 0.0309), (23.74, 0.0313), (24.12, 0.0303),
    (24.21, 0.0276),
    # dense core
    (0.4, 0.002), (0.6, -0.005), (0.8, 0.008), (1.0, 0.001), (1.2, -0.007), (1.4, 0.011),
    (1.6, 0.003), (1.8, -0.009), (2.0, 0.006), (2.2, -0.002), (2.4, 0.009), (2.6, -0.006),
    (2.8, 0.004), (3.0, -0.011), (3.2, 0.002), (3.4, 0.008), (3.6, -0.004), (3.8, 0.005),
    (4.0, -0.008), (4.2, 0.0), (4.4, -0.012), (4.6, 0.006), (4.8, -0.003), (5.0, 0.01),
    (5.2, -0.006), (5.4, 0.002), (5.6, -0.01), (5.8, 0.005), (6.0, -0.002), (6.2, -0.014),
    (6.4, 0.007), (6.6, -0.005), (6.8, 0.003), (7.0, -0.009), (7.2, 0.009), (7.4, -0.001),
    (7.6, 0.004), (7.8, -0.007), (8.0, 0.012), (8.2, -0.004), (8.4, 0.006), (8.6, 0.001),
    (8.8, 0.009), (9.0, -0.006), (9.2, 0.004), (9.4, 0.011), (9.6, -0.002), (9.8, 0.007),
    (10.0, -0.009), (10.2, 0.002), (10.4, -0.005), (10.6, 0.008), (10.8, 0.0), (11.0, -0.007),
    (11.2, 0.005), (11.4, -0.002), (11.6, 0.009), (11.8, -0.011), (12.0, 0.004), (12.3, -0.005),
    (12.6, 0.007), (12.9, 0.001), (13.2, 0.006), (13.5, -0.004), (13.8, 0.009), (14.1, 0.003),
    (14.4, 0.011), (14.7, 0.004),
    (0.5, 0.012), (0.9, -0.012), (1.3, 0.005), (1.7, 0.01), (2.1, -0.014), (2.5, 0.001),
    (2.9, 0.01), (3.3, -0.007), (3.7, 0.0), (4.1, 0.004), (4.5, -0.016), (4.9, 0.001),
    (5.3, -0.013), (5.7, 0.009), (6.1, 0.003), (6.5, -0.009), (6.9, 0.01), (7.3, -0.004),
    (7.7, 0.007), (8.1, -0.011), (8.5, 0.015), (8.9, 0.003), (9.3, -0.01), (9.7, 0.013),
    (10.1, 0.006), (10.5, -0.013), (10.9, 0.01), (11.3, -0.009), (11.7, 0.002),
    (0.3, 0.005), (0.45, -0.009), (0.55, 0.015), (0.7, -0.001), (0.85, 0.011), (1.05, -0.015),
    (1.15, 0.008), (1.25, -0.004), (1.35, 0.014), (1.45, -0.012), (1.55, 0.0), (1.7, 0.006),
    (1.85, -0.015), (1.95, 0.011), (2.05, -0.004), (2.15, 0.013), (2.3, -0.018), (2.45, 0.006),
    (2.55, -0.009), (2.7, 0.016), (2.85, -0.013), (2.95, 0.003), (3.1, 0.012), (3.2, -0.019),
    (3.35, 0.006), (3.45, -0.009), (3.55, 0.011), (3.7, -0.015), (3.85, 0.007), (3.95, -0.002),
    (4.05, 0.013), (4.2, -0.018), (4.3, 0.004), (4.45, -0.007), (4.6, 0.012), (4.7, -0.011),
    (4.85, 0.008), (4.95, -0.019),
    (5.05, 0.005), (5.15, -0.016), (5.25, 0.013), (5.35, -0.004), (5.5, 0.009), (5.6, -0.019),
    (5.75, 0.002), (5.9, 0.012), (6.0, -0.011), (6.15, 0.009), (6.25, -0.005), (6.4, -0.019),
    (6.55, 0.011), (6.7, 0.004), (6.8, -0.012), (6.95, 0.014), (7.1, -0.003), (7.25, -0.017),
    (7.35, 0.007), (7.5, -0.008), (7.65, 0.012), (7.75, -0.015), (7.9, 0.004), (8.05, 0.018),
    (8.15, -0.007), (8.3, 0.01), (8.45, -0.015), (8.55, 0.017), (8.7, 0.005), (8.85, -0.003),
    (8.95, 0.013), (9.1, -0.014), (9.2, 0.019), (9.35, 0.007), (9.5, -0.006), (9.6, 0.016),
    (9.75, 0.004), (9.85, -0.016), (10.0, 0.012), (10.15, -0.011), (10.25, 0.009), (10.4, 0.016),
    (10.55, -0.001), (10.65, -0.017), (10.8, 0.013), (10.95, -0.011), (11.05, 0.004), (11.2, -0.015),
    (11.35, 0.011), (11.45, -0.004), (11.6, -0.017), (11.75, 0.014), (11.85, 0.001), (12.0, -0.015),
    (12.15, 0.011), (12.35, -0.008), (12.5, 0.012), (12.7, -0.016), (12.85, 0.005), (13.0, -0.01),
    (13.15, 0.013), (13.3, 0.002), (13.45, -0.013), (13.6, 0.011), (13.75, -0.005), (13.9, 0.014),
    (14.05, -0.001), (14.2, 0.012), (14.35, -0.011), (14.5, 0.008), (14.65, 0.001), (14.8, 0.012),
    (14.95, -0.004), (15.1, 0.011), (15.3, 0.004), (15.5, 0.013), (15.7, -0.003), (15.9, 0.012),
    (16.1, 0.002), (16.3, 0.013),
    (0.35, -0.002), (0.75, 0.004), (1.1, 0.012), (1.5, -0.002), (1.9, 0.004), (2.35, -0.011),
    (2.75, 0.0), (3.15, -0.003), (3.6, 0.012), (4.0, 0.008), (4.35, -0.004), (4.75, 0.003),
    (5.2, 0.006), (5.65, -0.006), (6.05, 0.006), (6.45, -0.002), (6.85, -0.007), (7.25, 0.003),
    (7.7, -0.011), (8.05, 0.004), (8.4, 0.002), (8.75, -0.01), (9.15, 0.002), (9.55, 0.008),
    (9.95, 0.003), (10.35, 0.011), (10.75, -0.008), (11.15, 0.0), (11.55, -0.006), (11.95, 0.007),
    (12.45, 0.002), (12.95, -0.007), (13.45, 0.005), (13.95, 0.005), (14.45, -0.002), (8.3, 0.013),
    (8.6, 0.019), (8.9, 0.01), (9.25, 0.014), (9.5, 0.017), (9.8, 0.01),
]

hskill_fit_x = [0.2, 2.5, 5, 7.5, 10, 12.5, 15, 17.5, 20, 22, 23.9]
hskill_fit_y = [-0.0046, -0.0048, -0.0043, -0.0033, -0.0017, 0.0012, 0.0058, 0.0097, 0.0145,
                0.0195, 0.0252]
hskill_fit_half = [0.0022, 0.0016, 0.0013, 0.0012, 0.0012, 0.0014, 0.0018, 0.0026, 0.0035,
                   0.0044, 0.0055]

y_ticks = [-0.1, -0.05, 0, 0.05, 0.1]
y_tick_text = ["-.1", "-.05", "0", ".05", ".1"]
y_title = "Within Country Convergence Rate β"

DOT = "#1c2b50"
LINE = "#c8143c"
BAND = "rgba(214, 86, 120, 0.55)"
BAND_EDGE = "rgba(200, 60, 95, 0.75)"
GRID = "#e2e2e2"
SANS = "Liberation Sans, Arial, sans-serif"
SERIF = "Liberation Serif, Times New Roman, serif"

# Panel geometry in page pixels: (left, right, top, bottom)
panels = [
    dict(pts=gdp_points, fx=gdp_fit_x, fy=gdp_fit_y, fh=gdp_fit_half,
         box=(48.5, 542.7, 2, 342), xr=[6.688, 11.195], yr=[-0.1055, 0.1057],
         xt=[7, 8, 9, 10, 11], xtitle="log GDP per capita",
         ytitle_x=14.5, caption="(a) Log GDP per capita", cap_xy=(272, 428)),
    dict(pts=serv_points, fx=serv_fit_x, fy=serv_fit_y, fh=serv_fit_half,
         box=(738.3, 1231.7, 2, 342), xr=[13.92, 85.31], yr=[-0.1055, 0.1057],
         xt=[20, 40, 60, 80], xtitle="Services employment share",
         ytitle_x=706.5, caption="(b) Services employment share", cap_xy=(963, 428)),
    dict(pts=hskill_points, fx=hskill_fit_x, fy=hskill_fit_y, fh=hskill_fit_half,
         box=(393.5, 887.7, 481, 821), xr=[-0.49, 25.47], yr=[-0.1058, 0.1053],
         xt=[0, 5, 10, 15, 20, 25], xtitle="High-skill Private Services employment share",
         ytitle_x=359.5, caption="(c) High-skill private services empl. share", cap_xy=(619, 902)),
]

fig = go.Figure()
annotations = []
layout_axes = {}

for i, p in enumerate(panels, start=1):
    sfx = "" if i == 1 else str(i)
    xa, ya = "x" + sfx, "y" + sfx
    left, right, top, bottom = p["box"]

    xs = [pt[0] for pt in p["pts"]]
    ys = [pt[1] for pt in p["pts"]]
    fig.add_trace(go.Scatter(
        x=xs, y=ys, mode="markers", xaxis=xa, yaxis=ya,
        marker=dict(size=4.6, color=DOT, line=dict(width=0)),
        showlegend=False, hoverinfo="skip"))

    # confidence band: lower edge, then upper edge filled down to it
    lo = [m - h for m, h in zip(p["fy"], p["fh"])]
    hi = [m + h for m, h in zip(p["fy"], p["fh"])]
    fig.add_trace(go.Scatter(
        x=p["fx"], y=lo, mode="lines",
        line=dict(color=BAND_EDGE, width=0.8, shape="spline"),
        xaxis=xa, yaxis=ya, showlegend=False, hoverinfo="skip"))
    fig.add_trace(go.Scatter(
        x=p["fx"], y=hi, mode="lines", fill="tonexty", fillcolor=BAND,
        line=dict(color=BAND_EDGE, width=0.8, shape="spline"),
        xaxis=xa, yaxis=ya, showlegend=False, hoverinfo="skip"))
    fig.add_trace(go.Scatter(
        x=p["fx"], y=p["fy"], mode="lines",
        line=dict(color=LINE, width=1.6, shape="spline"),
        xaxis=xa, yaxis=ya, showlegend=False, hoverinfo="skip"))

    layout_axes["xaxis" + sfx] = dict(
        domain=[left / W, right / W], anchor=ya, range=p["xr"],
        tickvals=p["xt"], ticks="outside", ticklen=5, tickwidth=1.2, tickcolor="black",
        ticklabelstandoff=-6,
        showline=True, linecolor="black", linewidth=1.6, mirror=True,
        showgrid=True, gridcolor=GRID, gridwidth=1.3, zeroline=False,
        tickfont=dict(family=SANS, size=14, color="black"))
    layout_axes["yaxis" + sfx] = dict(
        domain=[1 - bottom / H, 1 - top / H], anchor=xa, range=p["yr"],
        tickvals=y_ticks, ticktext=y_tick_text, tickangle=-90,
        ticks="outside", ticklen=5, tickwidth=1.2, tickcolor="black",
        showline=True, linecolor="black", linewidth=1.6, mirror=True,
        showgrid=True, gridcolor=GRID, gridwidth=1.8, zeroline=False,
        tickfont=dict(family=SANS, size=14, color="black"))

    cx = (left + right) / 2
    cy = (top + bottom) / 2
    annotations.append(dict(
        text=p["xtitle"], x=cx / W, y=1 - (bottom + 31) / H, xref="paper", yref="paper",
        xanchor="center", yanchor="middle", showarrow=False,
        font=dict(family=SANS, size=14, color="black")))
    annotations.append(dict(
        text=y_title, x=p["ytitle_x"] / W, y=1 - cy / H, xref="paper", yref="paper",
        xanchor="center", yanchor="middle", showarrow=False, textangle=-90,
        font=dict(family=SANS, size=14, color="black")))
    annotations.append(dict(
        text=p["caption"], x=p["cap_xy"][0] / W, y=1 - p["cap_xy"][1] / H,
        xref="paper", yref="paper", xanchor="center", yanchor="middle", showarrow=False,
        font=dict(family=SERIF, size=32, color="#111111")))

fig.update_layout(
    width=W, height=H, margin=dict(l=0, r=0, t=0, b=0),
    paper_bgcolor="white", plot_bgcolor="white",
    annotations=annotations, **layout_axes)

fig.write_html("out.html")
